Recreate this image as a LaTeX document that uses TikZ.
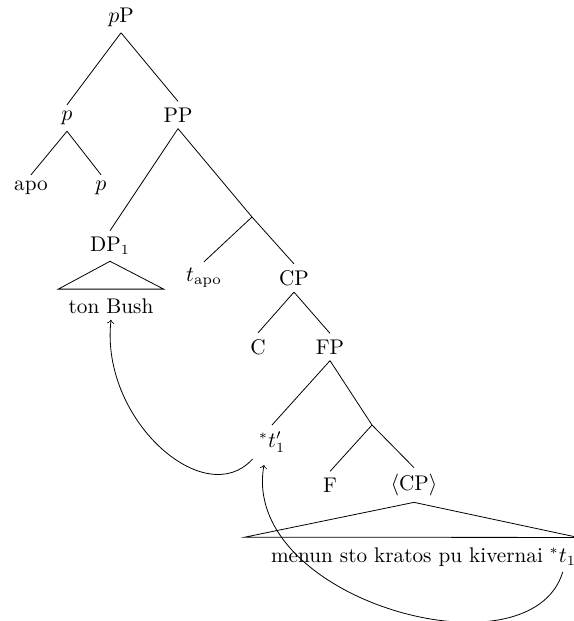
\documentclass[tikz,border=0pt]{standalone}
\usepackage{amsmath}
\usepackage{tikz}
\usetikzlibrary{arrows}

\begin{document}
\begin{tikzpicture}[x=0.5pt,y=-0.5pt]
  \tikzstyle{every node}=[inner sep=3pt,font=\fontsize{10.6}{12}\selectfont]
  \useasboundingbox (0,0) rectangle (573,621);
  \path (121,17) node (pP) {$p$P};
\path (67,118) node (p) {$p$};
\path (178,115) node (PP) {PP};
\path (31,188) node (apo) {apo};
\path (101,188) node (phead) {$p$};
\path (110,246) node (DP) {DP$_1$};
\path (111,306) node (bush) {ton Bush};
\path (204,278) node (tapo) {$t_{\text{apo}}$};
\path (294,278) node (CP) {CP};
\path (258,347) node (C) {C};
\path (330,347) node (FP) {FP};
\path (272,442) node (tp) {${}^*t'_1$};
\path (330,485) node (F) {F};
\path (414,485) node (CPlow) {$\langle$CP$\rangle$};
\path (407,557) node (menun) {menun sto kratos pu kivernai};
\path (menun.base east) node[anchor=base west,inner xsep=0pt] (t1) {${}^*t_1$};
  \coordinate (Pbar) at (252,217);
  \coordinate (Fbar) at (372,425);
  \draw (pP.south) -- (p.north)
        (pP.south) -- (PP.north)
 (p.south) -- (apo.north)
        (p.south) -- (phead.north)
        (PP.south) -- (DP.north)
        (PP.south) -- (Pbar)
 (Pbar) -- (tapo.north)
        (Pbar) -- (CP.north)
        (CP.south) -- (C.north)
        (CP.south) -- (FP.north)
 (FP.south) -- (tp.north)
        (FP.south) -- (Fbar)
        (Fbar) -- (F.north)
        (Fbar) -- (CPlow.north);
  % roofs
  \draw (DP.south) -- ([shift={(-4,-3)}]bush.north west) -- ([shift={(4,-3)}]bush.north east) -- cycle;
  \draw (CPlow.south) -- ([shift={(-20,-4)}]menun.north west) -- ([shift={(2,-4)}]t1.north east) -- cycle;
  % movement
  \draw[->] (tp.south west) .. controls (205,512) and (100,420) .. (bush.south);
  \draw[->] (t1.south) .. controls (530,680) and (240,600) .. ([shift={(-8,6)}]tp.south);
\end{tikzpicture}
\end{document}
